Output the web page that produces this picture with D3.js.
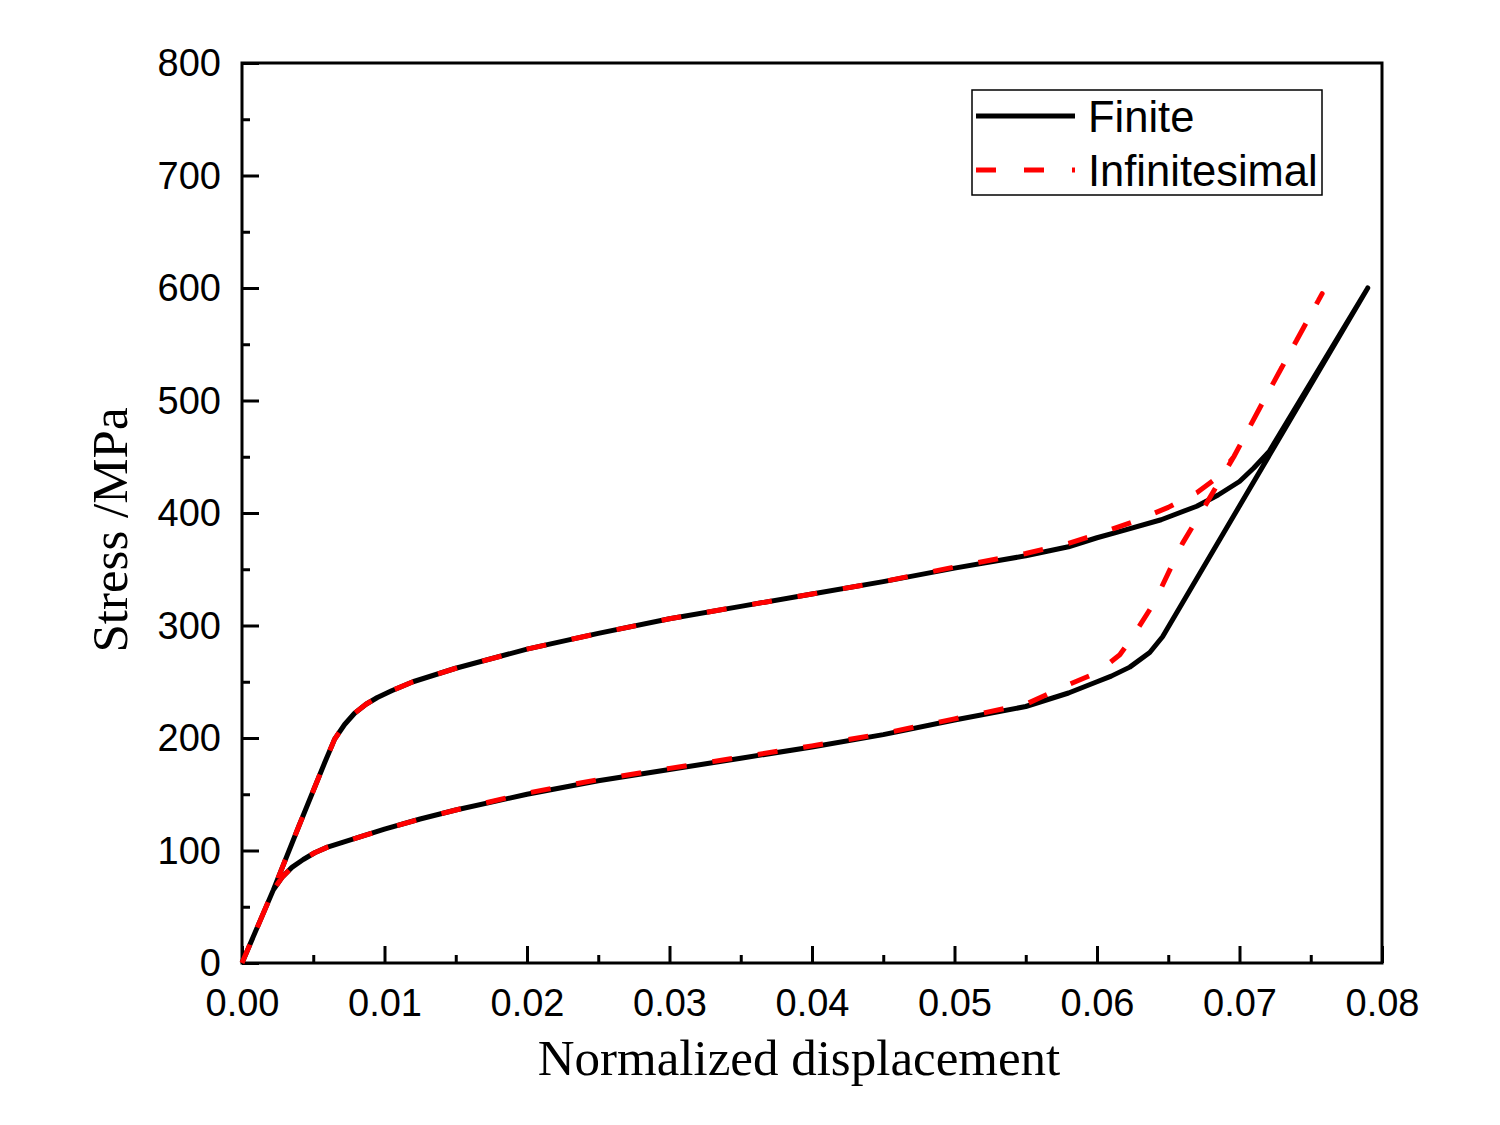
<!DOCTYPE html>
<html>
<head>
<meta charset="utf-8">
<script src="https://cdn.jsdelivr.net/npm/d3@7"></script>
<style>
  body { margin: 0; background: #fff; }
  .tick text { font-family: "Liberation Sans", Arial, sans-serif; }
</style>
</head>
<body>
<script>
// Finite strain curve (loading then unloading)
var finiteX = [0, 0.0022, 0.004, 0.0058, 0.0065, 0.0072, 0.0079, 0.0087, 0.0095, 0.0105, 0.012, 0.015, 0.02, 0.025, 0.03, 0.035, 0.04, 0.045, 0.05, 0.055, 0.058, 0.06, 0.062, 0.0645, 0.067, 0.0685, 0.07, 0.071, 0.0721, 0.079,
  0.0646, 0.0637, 0.0623, 0.061, 0.06, 0.058, 0.055, 0.05, 0.045, 0.04, 0.035, 0.03, 0.025, 0.02, 0.015, 0.0125, 0.01, 0.0085, 0.007, 0.006, 0.0051, 0.0043, 0.0035, 0.0028, 0.0022, 0];
var finiteY = [0, 65, 122, 178, 199, 212, 222, 230, 236, 242, 250, 262, 279, 293, 306, 317, 328, 339, 351, 362, 370, 378, 385, 394, 406, 416, 428, 440, 455, 600,
  290, 276, 263, 255, 250, 240, 228, 216, 203, 192, 182, 172, 162, 150, 136, 128, 119, 113, 107, 103, 98, 92, 85, 76, 65, 0];

// Infinitesimal strain curve
var infX = [0, 0.0022, 0.004, 0.0058, 0.0065, 0.0072, 0.0079, 0.0087, 0.0095, 0.0105, 0.012, 0.015, 0.02, 0.025, 0.03, 0.035, 0.04, 0.045, 0.05, 0.055, 0.058, 0.06, 0.0625, 0.065, 0.067, 0.0685, 0.0696, 0.0717, 0.0758,
  0.0717, 0.0696, 0.0677, 0.066, 0.064, 0.0625, 0.0616, 0.06, 0.0581, 0.055, 0.05, 0.045, 0.04, 0.035, 0.03, 0.025, 0.02, 0.015, 0.0125, 0.01, 0.0085, 0.007, 0.006, 0.0051, 0.0043, 0.0035, 0.0028, 0.0022, 0];
var infY = [0, 65, 122, 178, 199, 212, 222, 230, 236, 242, 250, 262, 279, 293, 306, 317, 328, 339, 352, 364, 373, 381, 392, 405, 418, 432, 450, 500, 595,
  500, 450, 409, 373, 320, 290, 274, 258, 248, 230, 217, 204, 193, 183, 173, 163, 151, 136, 128, 119, 113, 107, 103, 98, 92, 85, 76, 65, 0];

var seriesNames = ["Finite", "Infinitesimal"];
var xTicks = [0, 0.01, 0.02, 0.03, 0.04, 0.05, 0.06, 0.07, 0.08];
var yTicks = [0, 100, 200, 300, 400, 500, 600, 700, 800];

var svgWidth = 1500, svgHeight = 1125;
var margin = { top: 63, right: 118, bottom: 162, left: 242 };
var width = svgWidth - margin.left - margin.right;
var height = svgHeight - margin.top - margin.bottom;

var svg = d3.select("body").append("svg")
  .attr("width", svgWidth)
  .attr("height", svgHeight);

var chartGroup = svg.append("g")
  .attr("transform", `translate(${margin.left}, ${margin.top})`);

var x = d3.scaleLinear().domain([0, 0.08]).range([0, width]);
var y = d3.scaleLinear().domain([0, 800]).range([height, 0]);

// minor ticks (inward)
var xMinor = d3.range(0.005, 0.08, 0.01);
var yMinor = d3.range(50, 800, 100);

chartGroup.append("g")
  .attr("transform", `translate(0, ${height})`)
  .call(d3.axisBottom(x).tickValues(xMinor).tickSize(-8).tickFormat(""))
  .call(g => g.select(".domain").remove())
  .selectAll("line").attr("stroke-width", 3);

chartGroup.append("g")
  .call(d3.axisLeft(y).tickValues(yMinor).tickSize(-8).tickFormat(""))
  .call(g => g.select(".domain").remove())
  .selectAll("line").attr("stroke-width", 3);

// major axes
var xAxis = chartGroup.append("g")
  .attr("transform", `translate(0, ${height})`)
  .call(d3.axisBottom(x).tickValues(xTicks).tickSize(-17).tickPadding(26).tickFormat(d3.format(".2f")));
xAxis.select(".domain").remove();
xAxis.selectAll("line").attr("stroke-width", 3);
xAxis.selectAll("text").attr("font-size", 38).attr("fill", "#000");

var yAxis = chartGroup.append("g")
  .call(d3.axisLeft(y).tickValues(yTicks).tickSize(-17).tickPadding(21).tickFormat(d3.format("d")));
yAxis.select(".domain").remove();
yAxis.selectAll("line").attr("stroke-width", 3);
yAxis.selectAll("text").attr("font-size", 38).attr("fill", "#000").attr("dy", "0.34em");

// frame
chartGroup.append("rect")
  .attr("x", 0).attr("y", 0)
  .attr("width", width).attr("height", height)
  .attr("fill", "none")
  .attr("stroke", "#000")
  .attr("stroke-width", 3);

var line = d3.line()
  .x(d => x(d[0]))
  .y(d => y(d[1]));

var finiteData = finiteX.map((v, i) => [v, finiteY[i]]);
var infData = infX.map((v, i) => [v, infY[i]]);

chartGroup.append("path")
  .datum(finiteData)
  .attr("d", line)
  .attr("fill", "none")
  .attr("stroke", "#000")
  .attr("stroke-width", 5)
  .attr("stroke-linejoin", "round");

chartGroup.append("path")
  .datum(infData)
  .attr("d", line)
  .attr("fill", "none")
  .attr("stroke", "#ff0000")
  .attr("stroke-width", 5)
  .attr("stroke-dasharray", "20,26")
  .attr("stroke-linejoin", "round");

// axis titles
svg.append("text")
  .attr("x", 799)
  .attr("y", 1075)
  .attr("text-anchor", "middle")
  .attr("font-family", "Liberation Serif, Times New Roman, serif")
  .attr("font-size", 51)
  .text("Normalized displacement");

svg.append("text")
  .attr("transform", "translate(127, 530) rotate(-90)")
  .attr("text-anchor", "middle")
  .attr("font-family", "Liberation Serif, Times New Roman, serif")
  .attr("font-size", 51)
  .text("Stress /MPa");

// legend
var legend = svg.append("g");
legend.append("rect")
  .attr("x", 972).attr("y", 90)
  .attr("width", 350).attr("height", 105)
  .attr("fill", "#fff")
  .attr("stroke", "#000")
  .attr("stroke-width", 1.5);

var legendColors = ["#000", "#ff0000"];
var legendDash = [null, "20,28"];
seriesNames.forEach(function(name, i) {
  var ly = 116 + i * 54;
  legend.append("line")
    .attr("x1", 976).attr("x2", 1075)
    .attr("y1", ly).attr("y2", ly)
    .attr("stroke", legendColors[i])
    .attr("stroke-width", 5)
    .attr("stroke-dasharray", legendDash[i]);
  legend.append("text")
    .attr("x", 1088)
    .attr("y", ly + 16)
    .attr("font-family", "Liberation Sans, Arial, sans-serif")
    .attr("font-size", 43.5)
    .text(name);
});
</script>
</body>
</html>
